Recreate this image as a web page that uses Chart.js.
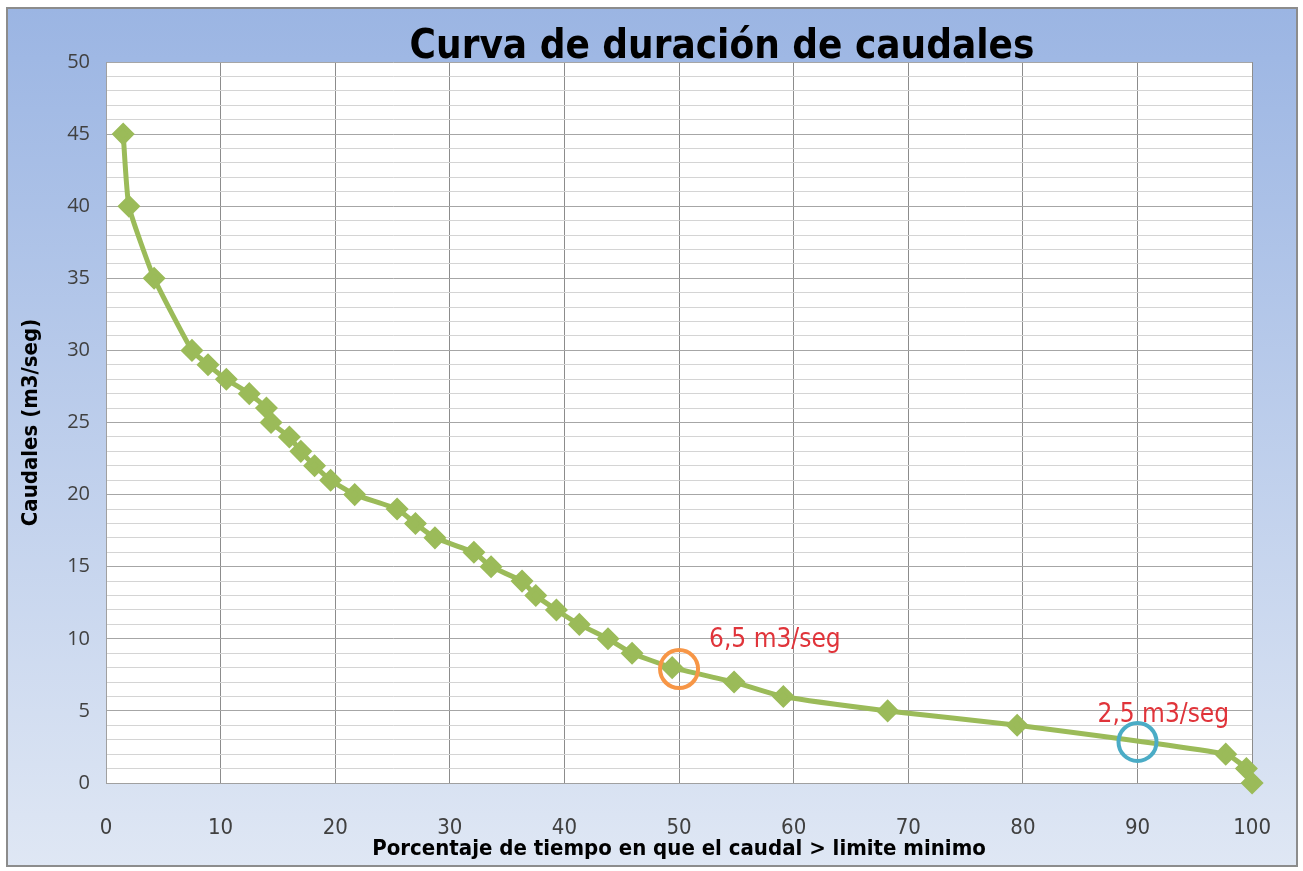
<!DOCTYPE html>
<html>
<head>
<meta charset="utf-8">
<title>Curva de duración de caudales</title>
<script src="https://cdn.jsdelivr.net/npm/chart.js@4/dist/chart.umd.min.js"></script>
<style>
  html, body { margin: 0; padding: 0; background: #fff; }
  #chart { display: block; }
</style>
</head>
<body>
<canvas id="chart" width="1303" height="871"></canvas>
<script>
// Data
const porcentaje = [1.5, 2, 4.2, 7.5, 8.9, 10.5, 12.5, 14, 14.4, 16, 17, 18.2, 19.6, 21.7, 25.4, 27, 28.7,
  32.1, 33.6, 36.3, 37.5, 39.3, 41.3, 43.8, 45.9, 49.4, 54.8, 59.1, 68.2, 79.5, 97.7, 99.5, 100];
const caudales = [45, 40, 35, 30, 29, 28, 27, 26, 25, 24, 23, 22, 21, 20, 19, 18, 17,
  16, 15, 14, 13, 12, 11, 10, 9, 8, 7, 6, 5, 4, 2, 1, 0];

// Marked points (percentage, flow) with labels
const marcasX = [50, 90];
const marcasY = [7.9, 2.85];
const marcasTexto = ['6,5 m3/seg', '2,5 m3/seg'];

const narrow = "'Liberation Sans Narrow', 'DejaVu Sans Condensed', sans-serif";

// Background, frame and title
const fondo = {
  id: 'fondo',
  beforeDraw(chart) {
    const { ctx, chartArea } = chart;
    ctx.save();
    ctx.fillStyle = '#ffffff';
    ctx.fillRect(0, 0, chart.width, chart.height);
    const g = ctx.createLinearGradient(0, 8, 0, 866);
    g.addColorStop(0, '#9bb5e3');
    g.addColorStop(1, '#dfe7f4');
    ctx.fillStyle = g;
    ctx.fillRect(7, 8, 1290, 858);
    ctx.strokeStyle = '#8c8c8c';
    ctx.lineWidth = 2;
    ctx.strokeRect(7, 8, 1290, 858);
    ctx.fillStyle = '#ffffff';
    ctx.fillRect(chartArea.left, chartArea.top, chartArea.right - chartArea.left, chartArea.bottom - chartArea.top);
    ctx.restore();
  },
  afterDraw(chart) {
    const { ctx } = chart;
    ctx.save();
    ctx.fillStyle = '#000000';
    ctx.font = 'bold 40px ' + narrow;
    ctx.textAlign = 'center';
    ctx.textBaseline = 'alphabetic';
    ctx.fillText('Curva de duración de caudales', 722, 58);
    ctx.restore();
  }
};

// Circles and red labels
const marcas = {
  id: 'marcas',
  afterDatasetsDraw(chart) {
    const { ctx, scales } = chart;
    const colores = ['#f79646', '#4bacc6'];
    const offs = [[30, -29], [-40, -27]];
    ctx.save();
    marcasX.forEach((x, i) => {
      const px = scales.x.getPixelForValue(x);
      const py = scales.y.getPixelForValue(marcasY[i]);
      ctx.beginPath();
      ctx.strokeStyle = colores[i];
      ctx.lineWidth = 4;
      ctx.arc(px, py, 19, 0, Math.PI * 2);
      ctx.stroke();
      ctx.fillStyle = '#e0343a';
      ctx.font = '26px ' + narrow;
      ctx.textAlign = 'left';
      ctx.textBaseline = 'middle';
      ctx.fillText(marcasTexto[i], px + offs[i][0], py + offs[i][1]);
    });
    ctx.restore();
  }
};

new Chart(document.getElementById('chart'), {
  type: 'line',
  data: {
    datasets: [{
      data: porcentaje.map((x, i) => ({ x: x, y: caudales[i] })),
      borderColor: '#9bbb59',
      backgroundColor: '#9bbb59',
      borderWidth: 5,
      tension: 0.15,
      pointStyle: 'rectRot',
      pointRadius: 8,
      pointHoverRadius: 8,
      clip: false
    }]
  },
  options: {
    responsive: false,
    animation: false,
    events: [],
    layout: { padding: { left: 10, top: 62, right: 47, bottom: 8 } },
    plugins: {
      legend: { display: false },
      tooltip: { enabled: false }
    },
    scales: {
      x: {
        type: 'linear',
        min: 0,
        max: 100,
        ticks: { stepSize: 10, padding: 32, color: '#404040', font: { family: narrow, size: 22 } },
        grid: { color: '#8c8c8c', lineWidth: 1, drawTicks: false },
        border: { color: '#a0a0a0' },
        title: {
          display: true,
          text: 'Porcentaje de tiempo en que el caudal > limite minimo',
          color: '#000000',
          font: { family: narrow, size: 22, weight: 'bold' },
          padding: { top: 0, bottom: 1 }
        },
        afterFit(scale) { scale.height = 871 - 783 - 8; }
      },
      y: {
        min: 0,
        max: 50,
        ticks: {
          stepSize: 1,
          autoSkip: false,
          padding: 16,
          color: '#404040',
          font: { family: "'Open Sans', sans-serif", size: 20 },
          callback: v => (v % 5 === 0 ? v : '')
        },
        grid: {
          drawTicks: false,
          color: c => (c.tick.value % 5 === 0 ? '#a6a6a6' : '#d4d4d4'),
          lineWidth: 1
        },
        border: { color: '#a0a0a0' },
        title: {
          display: true,
          text: 'Caudales (m3/seg)',
          color: '#000000',
          font: { family: narrow, size: 22, weight: 'bold' },
          padding: { top: 8, bottom: 0 }
        },
        afterFit(scale) { scale.width = 106 - 10; }
      }
    }
  },
  plugins: [fondo, marcas]
});
</script>
</body>
</html>
